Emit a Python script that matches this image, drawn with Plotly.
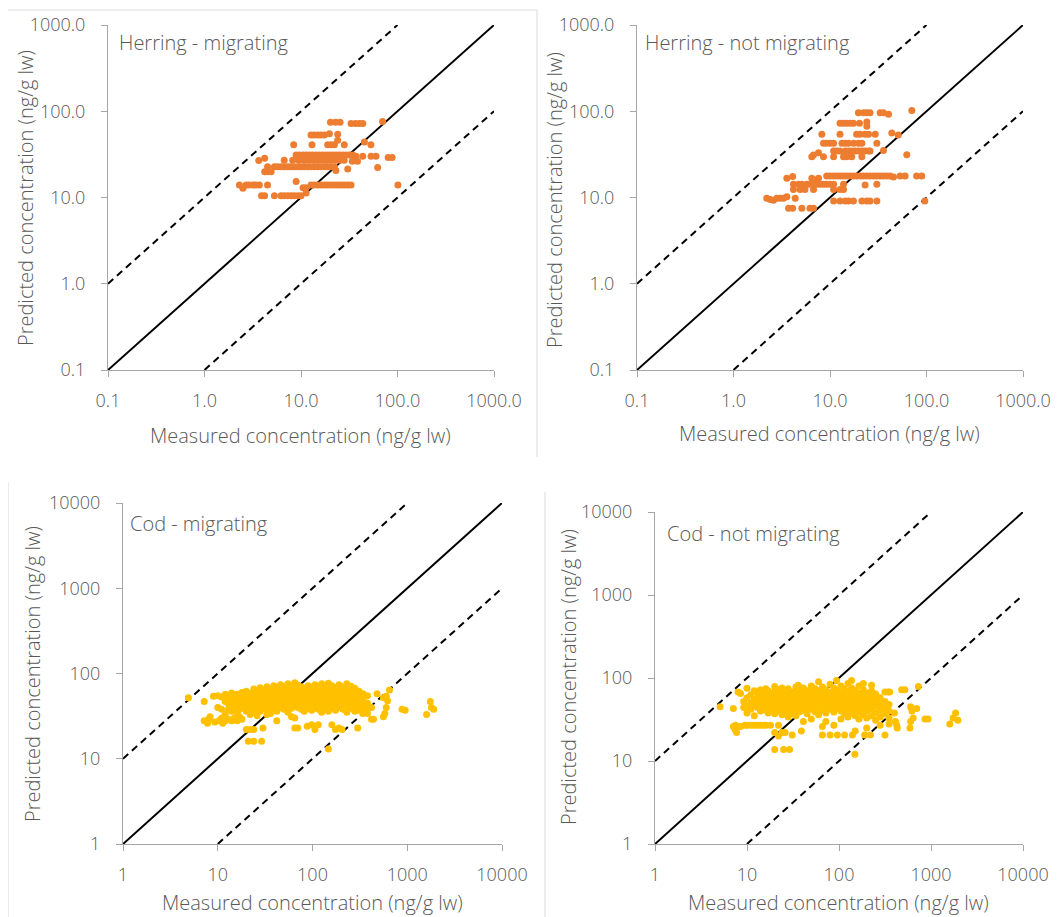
import math
import plotly.graph_objects as go

# ---------------- data ----------------
herring_mig = [
    (20.2, 74.5), (22.8, 74.5), (25.4, 74.5), (33, 72), (36.7, 72), (40.3, 72), (43.7, 72), (70, 76),
    (12.7, 53), (13.7, 53), (14.9, 53), (16.1, 53), (17.5, 53), (19.7, 55), (24, 54),
    (8.4, 41), (13, 41), (18.9, 41), (20.5, 41), (22.2, 41), (24, 46), (28.1, 41), (45.4, 44), (53, 41),
    (8.9, 31), (9.6, 31), (10.5, 31), (11.3, 31), (12.2, 31), (13.2, 31), (14.3, 31), (15.5, 31),
    (16.8, 31), (18.2, 31), (19.7, 31), (21.3, 31), (23.1, 31), (25, 31), (27, 31), (29.3, 31),
    (31.7, 31), (34.4, 31), (37.1, 30), (43.6, 30), (53.2, 30), (59.9, 30), (80, 29), (88, 29),
    (3.65, 26.8), (4.2, 28.5), (6.7, 27), (8.2, 27), (9.5, 27), (10.8, 27), (12, 27), (13.5, 27),
    (15, 27), (16.8, 27), (18.5, 27), (20.5, 27), (23, 27), (25.5, 27), (28, 27), (34, 26.3), (38.5, 26.3),
    (4.5, 22.8), (5.3, 22.8), (5.7, 22.8), (6.2, 22.8), (6.7, 22.8), (7.3, 22.8), (7.9, 22.8), (8.5, 22.8),
    (9.3, 22.8), (10, 22.8), (10.8, 22.8), (11.7, 22.8), (12.7, 22.8), (13.7, 22.8), (14.9, 22.8),
    (16.1, 22.8), (17.5, 22.8), (18.9, 22.8), (20.5, 22.8), (22.2, 22.8), (30.5, 21.4), (62.3, 22.3),
    (4.2, 19.9), (4.5, 19.9), (4.9, 19.9), (23, 20.5),
    (2.3, 14), (2.5, 12.8), (2.7, 14), (2.9, 14), (3.2, 14), (3.4, 14), (3.7, 14), (4.5, 14),
    (8.9, 15.3), (10.5, 13), (11.3, 13), (12.7, 14), (13.7, 14), (14.9, 14), (16.1, 14), (17.5, 14),
    (18.9, 14), (20.5, 14), (22.2, 14), (24, 14), (26, 14), (28.1, 14), (30.5, 14), (33, 14), (101, 14),
    (3.9, 10.5), (4.2, 10.5), (5.3, 10.5), (6.2, 10.5), (6.7, 10.5), (7.3, 10.5), (7.9, 10.5),
    (8.5, 10.5), (9.3, 10.5), (10, 10.5), (11.3, 11.3),
]

herring_notmig = [
    (19.7, 96), (22.3, 96), (24.1, 96), (26, 96), (33.1, 96), (35.8, 96), (40.4, 92), (70.5, 102),
    (12.7, 72.4), (13.8, 72.4), (14.9, 72.4), (16.2, 72.4), (17.5, 72.4), (20.2, 72.4), (24.1, 75), (24.1, 67),
    (8.23, 54), (12.7, 54), (18.9, 54), (20.5, 54), (23.1, 54), (25.1, 54), (29.4, 54), (43.7, 56), (51, 53),
    (8.56, 42.5), (9.2, 42.5), (10, 42.5), (10.9, 42.5), (13.3, 42.5), (14.4, 42.5), (15.55, 42.5),
    (17.6, 42.5), (19.7, 42.5), (21.4, 42.5), (30.6, 42.5),
    (10.9, 34.6), (11.7, 34.6), (12.7, 34.6), (14.4, 34.6), (15.55, 34.6), (16.8, 34.6), (18.2, 34.6),
    (19.7, 34.6), (21.4, 34.6), (23.1, 34.6), (25.1, 34.6), (26, 34.6), (35.8, 35), (7.6, 33),
    (6.48, 29.7), (6.75, 31), (8.56, 29.7), (10.9, 29.7), (13.8, 29.7), (14.9, 29.7), (16.8, 29.7),
    (21.4, 29.7), (62.5, 31.4),
    (9.25, 17.8), (10, 17.8), (10.9, 17.8), (11.75, 17.8), (12.7, 17.8), (13.8, 17.8), (14.9, 17.8),
    (16.2, 17.8), (17.5, 17.8), (18.9, 17.8), (20.6, 17.8), (22.2, 17.8), (24.1, 17.8), (26, 17.8),
    (28.2, 17.8), (30.6, 17.8), (33.1, 17.8), (35.8, 17.8), (38.8, 17.8), (41.9, 17.8), (45.5, 17.3),
    (53.3, 17.8), (60, 17.8), (79, 17.8), (89.4, 17.8),
    (3.57, 16.7), (4.1, 17.5), (6.48, 16.7), (7.02, 15.8), (7.6, 16.7),
    (4.18, 14.2), (4.72, 14.2), (5.11, 14.2), (5.75, 14.2), (6.2, 14.2), (6.75, 14.2), (7.3, 14.2),
    (7.9, 14.2), (8.56, 14.2), (9.25, 14.2), (10, 14.2), (10.9, 14.2), (13.8, 14.2), (23.1, 14), (30.6, 14.2),
    (4.18, 12.4), (4.9, 12.4), (5.5, 12.4), (6.75, 12.4), (10.9, 12.4), (12.7, 12.4), (13.8, 12.4),
    (2.21, 9.8), (2.4, 9.5), (2.6, 9.3), (2.81, 9.8), (3.04, 9.8), (3.3, 9.8), (3.57, 10.2), (4.36, 9.8),
    (10.9, 9.1), (12.7, 9.1), (14.4, 9.1), (15.55, 9.1), (17.5, 9.1), (21.4, 9.1), (24.1, 9.1),
    (26, 9.1), (30.6, 9.1), (96, 9.1),
    (3.72, 7.5), (4.1, 7.5), (5.11, 7.5), (6.2, 7.5), (6.75, 7.5),
]

cod_mig = [
    (4.9, 52), (7.2, 47), (7.2, 28), (7.8, 26), (8, 29), (8.3, 31),
    (9, 54), (9.3, 27), (10, 55), (10, 40), (10.3, 28), (11, 53), (11, 38), (11, 30), (11.3, 26),
    (12, 57), (12, 47), (12, 33), (12, 28), (13, 55), (13, 44), (13, 38), (13, 29),
    (14, 59), (14, 50), (14, 42), (14, 36), (14, 28), (15, 54), (15, 46), (15, 39), (15, 30),
    (16, 57), (16, 49), (16, 43), (16, 35), (16, 28), (17, 52), (17, 45), (17, 38), (17, 31),
    (18, 60), (18, 54), (18, 47), (18, 40), (18, 29),
    (20, 62), (20, 55), (20, 48), (20, 42), (20, 36), (20, 22),
    (22, 58), (22, 51), (22, 45), (22, 39), (22, 33), (21, 16), (22, 22),
    (24, 66), (24, 60), (24, 53), (24, 47), (24, 41), (24, 35), (24, 16), (24, 22),
    (26, 63), (26, 56), (26, 50), (26, 44), (26, 38), (26, 32),
    (28, 68), (28, 61), (28, 54), (28, 48), (28, 42), (28, 36), (29, 16),
    (30, 64), (30, 57), (30, 51), (30, 45), (30, 39), (30, 23),
    (33, 70), (33, 62), (33, 55), (33, 49), (33, 43), (33, 37), (33, 33),
    (36, 66), (36, 59), (36, 52), (36, 46), (36, 40), (36, 34),
    (39, 72), (39, 64), (39, 57), (39, 51), (39, 45), (39, 39),
    (42, 68), (42, 61), (42, 54), (42, 48), (42, 42), (42, 36), (42, 28),
    (46, 74), (46, 65), (46, 58), (46, 52), (46, 46), (46, 40),
    (50, 70), (50, 62), (50, 56), (50, 50), (50, 44), (50, 38),
    (55, 76), (55, 67), (55, 60), (55, 53), (55, 47), (55, 41), (55, 35),
    (60, 72), (60, 64), (60, 57), (60, 51), (60, 45), (60, 39), (60, 31),
    (65, 78), (65, 68), (65, 61), (65, 54), (65, 48), (65, 42), (65, 30), (65, 23),
    (70, 73), (70, 65), (70, 58), (70, 52), (70, 46), (70, 40), (70, 23),
    (76, 70), (76, 62), (76, 56), (76, 50), (76, 44), (76, 38),
    (82, 67), (82, 60), (82, 54), (82, 48), (82, 42), (82, 36),
    (90, 72), (90, 64), (90, 57), (90, 51), (90, 45), (90, 39), (88, 24),
    (98, 68), (98, 61), (98, 55), (98, 49), (98, 43), (98, 37), (98, 25),
    (106, 74), (106, 65), (106, 58), (106, 52), (106, 46), (106, 40), (106, 22),
    (115, 70), (115, 62), (115, 56), (115, 50), (115, 44), (115, 38), (115, 25),
    (125, 76), (125, 66), (125, 59), (125, 53), (125, 47), (125, 41), (125, 35),
    (135, 71), (135, 63), (135, 57), (135, 51), (135, 45), (135, 39),
    (147, 77), (147, 67), (147, 60), (147, 54), (147, 48), (147, 42), (147, 36), (147, 13),
    (160, 72), (160, 64), (160, 58), (160, 52), (160, 46), (160, 40), (160, 25),
    (175, 68), (175, 61), (175, 55), (175, 49), (175, 43), (175, 37), (175, 22),
    (190, 74), (190, 65), (190, 58), (190, 52), (190, 46), (190, 40), (190, 23),
    (210, 70), (210, 62), (210, 56), (210, 50), (210, 44), (210, 38), (205, 22),
    (230, 76), (230, 66), (230, 59), (230, 53), (230, 47), (230, 41), (230, 35),
    (255, 71), (255, 63), (255, 57), (255, 51), (255, 45), (255, 39),
    (280, 67), (280, 60), (280, 54), (280, 48), (280, 42), (280, 36),
    (310, 62), (310, 55), (310, 49), (310, 43), (310, 37), (300, 23),
    (340, 58), (340, 52), (340, 46), (340, 40), (340, 34),
    (380, 55), (380, 45), (380, 38), (380, 34), (420, 40), (420, 29), (440, 29),
    (480, 58), (560, 52), (600, 54), (620, 48), (600, 40), (560, 31), (580, 34), (650, 64),
    (880, 38), (950, 37), (1600, 33), (1750, 47), (1900, 38), (1800, 40),
]

cod_notmig = [
    (5.1, 45), (7.1, 43), (7.1, 26), (7.4, 24), (7.7, 22), (7.5, 27), (8, 68), (8.5, 65), (8.5, 26),
    (9.2, 52), (9.2, 44), (9.5, 27), (10, 75), (10, 58), (10, 46), (10, 38), (10, 27),
    (11, 63), (11, 50), (11, 42), (11, 27), (12, 70), (12, 55), (12, 47), (12, 35), (12, 27),
    (13, 66), (13, 58), (13, 51), (13, 44), (13, 27), (14, 72), (14, 61), (14, 54), (14, 47), (14, 40), (14, 27),
    (15, 68), (15, 58), (15, 50), (15, 43), (15, 27), (16, 74), (16, 64), (16, 55), (16, 48), (16, 41), (16, 27),
    (17, 70), (17, 60), (17, 52), (17, 45), (17, 38), (18, 66), (18, 57), (18, 49), (18, 42), (18, 27),
    (20, 79), (20, 68), (20, 59), (20, 51), (20, 44), (20, 37), (20, 22), (20, 13.8),
    (22, 72), (22, 63), (22, 55), (22, 47), (22, 40), (22, 27), (22, 20),
    (24, 76), (24, 66), (24, 57), (24, 50), (24, 43), (24, 36), (24, 22),
    (26, 70), (26, 61), (26, 53), (26, 46), (26, 39), (25, 13.8), (26, 22),
    (28, 74), (28, 64), (28, 56), (28, 48), (28, 41), (28, 34), (29, 13.8),
    (31, 68), (31, 59), (31, 51), (31, 44), (31, 37), (31, 20.5),
    (34, 78), (34, 66), (34, 57), (34, 49), (34, 42), (34, 35),
    (36, 82), (37, 72), (37, 62), (37, 54), (37, 46), (37, 39), (39, 23),
    (41, 76), (41, 65), (41, 56), (41, 48), (41, 41), (41, 30),
    (45, 70), (45, 60), (45, 52), (45, 44), (45, 37),
    (50, 80), (50, 67), (50, 57), (50, 49), (50, 42), (50, 32),
    (55, 74), (55, 63), (55, 54), (55, 46), (55, 39),
    (60, 90), (60, 70), (60, 60), (60, 51), (60, 44), (60, 36),
    (66, 78), (66, 65), (66, 56), (66, 48), (66, 41), (66, 20.5), (66, 26),
    (72, 72), (72, 61), (72, 52), (72, 45), (72, 38), (72, 30),
    (80, 84), (80, 67), (80, 57), (80, 49), (80, 42), (80, 20.5),
    (88, 76), (88, 63), (88, 54), (88, 46), (88, 39), (88, 27),
    (94, 93), (96, 70), (96, 59), (96, 51), (96, 43), (96, 20.5),
    (105, 80), (105, 65), (105, 55), (105, 47), (105, 40), (105, 32),
    (115, 73), (115, 61), (115, 52), (115, 44), (115, 37), (115, 20.5),
    (125, 86), (125, 68), (125, 57), (125, 48), (125, 41), (125, 34),
    (137, 93), (137, 76), (137, 63), (137, 53), (137, 45), (137, 38), (140, 20.5),
    (150, 70), (150, 59), (150, 50), (150, 42), (150, 35), (149, 12.1), (150, 23),
    (165, 80), (165, 65), (165, 55), (165, 46), (165, 39), (165, 32),
    (184, 86), (184, 72), (184, 60), (184, 51), (184, 43), (184, 36), (190, 20.5),
    (200, 66), (200, 56), (200, 47), (200, 40), (200, 33), (200, 25),
    (226, 82), (226, 70), (226, 59), (226, 50), (226, 42), (226, 35), (220, 20.5),
    (250, 64), (250, 54), (250, 46), (250, 38), (250, 31),
    (280, 58), (280, 49), (280, 41), (280, 34), (280, 27),
    (316, 68), (316, 52), (316, 44), (316, 37), (316, 20.5),
    (340, 68), (355, 68), (350, 48), (350, 40), (350, 33), (350, 28),
    (400, 38), (410, 30), (424, 27), (430, 25),
    (480, 72), (520, 72), (600, 45), (620, 40), (640, 33), (600, 30), (590, 25), (700, 43), (728, 79),
    (860, 32), (930, 32), (1600, 28), (1740, 33), (1850, 38), (1960, 31),
]

top_ticks = [0.1, 1, 10, 100, 1000]
top_ticktext = ["0.1", "1.0", "10.0", "100.0", "1000.0"]
bot_ticks = [1, 10, 100, 1000, 10000]
bot_ticktext = ["1", "10", "100", "1000", "10000"]

panel_titles = ["Herring - migrating", "Herring - not migrating", "Cod - migrating", "Cod - not migrating"]
x_title = "Measured concentration (ng/g lw)"
y_title = "Predicted concentration (ng/g lw)"
line_factors = [1, 10, 0.1]  # 1:1 line and factor-10 lines

# ---------------- layout helpers ----------------
W, H = 1063, 917
OFF = 8  # the page body adds an 8px margin; place everything 8px up/left
FONT = "Open Sans"
TXT = "#595959"
AXC = "#A6A6A6"
ORANGE = "#ED7D31"
GOLD = "#FFC000"
TICK_SIZE = 18
TITLE_SIZE = 20

def px(x):
    return (x - OFF) / W

def py(y):
    return 1 - (y - OFF) / H

# plot areas in pixels of the final picture: (left, right, top, bottom)
areas = [(108, 494, 25, 370), (637, 1023, 25, 370), (123, 502, 503, 844), (655, 1023, 512, 844)]
datasets = [herring_mig, herring_notmig, cod_mig, cod_notmig]
colors = [ORANGE, ORANGE, GOLD, GOLD]
ranges = [(0.1, 1000), (0.1, 1000), (1, 10000), (1, 10000)]

fig = go.Figure()

for i in range(4):
    n = "" if i == 0 else str(i + 1)
    xa, ya = "x" + n, "y" + n
    lo, hi = ranges[i]
    for f in line_factors:
        if f == 1:
            xs = [lo, hi]
        elif f > 1:
            xs = [lo, hi / f]
        else:
            xs = [lo / f, hi]
        fig.add_trace(go.Scatter(
            x=xs, y=[v * f for v in xs], mode="lines", xaxis=xa, yaxis=ya,
            line=dict(color="black", width=2, dash="solid" if f == 1 else "7px,5px"),
            showlegend=False, hoverinfo="skip"))
    pts = datasets[i]
    fig.add_trace(go.Scatter(
        x=[p[0] for p in pts], y=[p[1] for p in pts], mode="markers", xaxis=xa, yaxis=ya,
        marker=dict(color=colors[i], size=7, line=dict(width=0)), showlegend=False))

    l, r, t, b = areas[i]
    ticks = top_ticks if i < 2 else bot_ticks
    ttext = top_ticktext if i < 2 else bot_ticktext
    rng = [math.log10(lo), math.log10(hi)]
    common = dict(type="log", range=rng, tickvals=ticks, ticktext=ttext, showgrid=False,
                  zeroline=False, showline=True, linecolor=AXC, linewidth=1, ticks="outside",
                  ticklen=6, tickcolor=AXC, tickwidth=1, automargin=False,
                  tickfont=dict(family=FONT, size=TICK_SIZE, color=TXT, weight=300))
    fig.layout["xaxis" + n] = dict(common, domain=[px(l), px(r)], anchor=ya, ticklabelstandoff=8)
    fig.layout["yaxis" + n] = dict(common, domain=[py(b), py(t)], anchor=xa, ticklabelstandoff=12)

label_pos = [(117, 43), (643, 43), (128, 523), (665, 533)]
xtitle_pos = [(300, 435), (829, 433), (312, 902), (838, 902)]
ytitle_pos = [(25, 198), (555, 200), (32, 674), (568, 677)]
annos = []
for i in range(4):
    lx, ly = label_pos[i]
    annos.append(dict(x=px(lx), y=py(ly), xref="paper", yref="paper", text=panel_titles[i],
                      showarrow=False, xanchor="left", yanchor="middle",
                      font=dict(family=FONT, size=TITLE_SIZE, color=TXT, weight=300)))
    tx, ty = xtitle_pos[i]
    annos.append(dict(x=px(tx), y=py(ty), xref="paper", yref="paper", text=x_title,
                      showarrow=False, xanchor="center", yanchor="middle",
                      font=dict(family=FONT, size=TITLE_SIZE, color=TXT, weight=300)))
    yx, yy = ytitle_pos[i]
    annos.append(dict(x=px(yx), y=py(yy), xref="paper", yref="paper", text=y_title,
                      showarrow=False, xanchor="center", yanchor="middle", textangle=-90,
                      font=dict(family=FONT, size=TITLE_SIZE, color=TXT, weight=300)))

border = "#D9D9D9"
shapes = [
    dict(type="line", xref="paper", yref="paper", x0=px(8), x1=px(537), y0=py(10), y1=py(10), line=dict(color=border, width=1)),
    dict(type="line", xref="paper", yref="paper", x0=px(537), x1=px(537), y0=py(10), y1=py(457), line=dict(color=border, width=1)),
    dict(type="line", xref="paper", yref="paper", x0=px(545), x1=px(545), y0=py(492), y1=py(917), line=dict(color=border, width=1)),
    dict(type="line", xref="paper", yref="paper", x0=px(8), x1=px(8), y0=py(482), y1=py(917), line=dict(color=border, width=1)),
]

fig.update_layout(template="none", width=W, height=H, margin=dict(l=0, r=0, t=0, b=0, autoexpand=False),
                  paper_bgcolor="white", plot_bgcolor="white",
                  annotations=annos, shapes=shapes, showlegend=False)

fig.write_html("out.html")
